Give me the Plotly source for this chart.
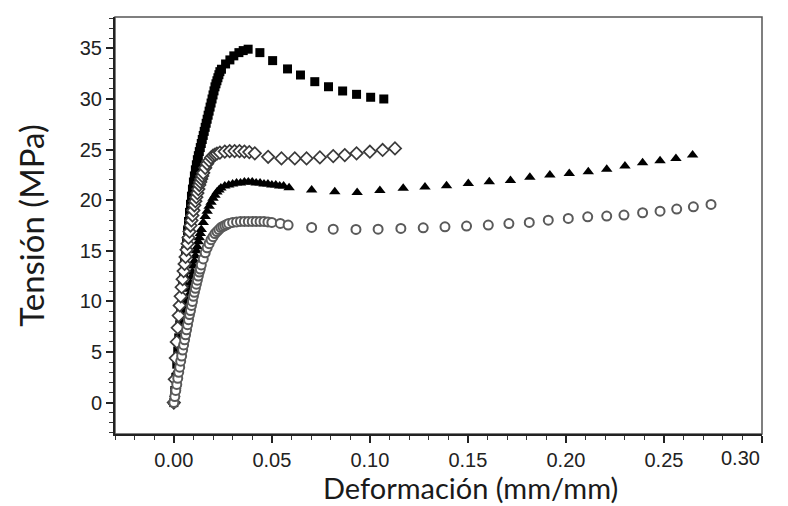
import plotly.graph_objects as go

# ---------------- data ----------------
sq_x = [0, 0.0005, 0.001, 0.0015, 0.002, 0.0025, 0.003, 0.0035, 0.004, 0.0045, 0.005, 0.0055,
        0.006, 0.0065, 0.007, 0.0075, 0.008, 0.0085, 0.009, 0.0095, 0.010, 0.0105, 0.011, 0.0115,
        0.012, 0.0125, 0.013, 0.0135, 0.014, 0.0145, 0.015, 0.0155, 0.016, 0.0165, 0.017, 0.0175,
        0.018, 0.0185, 0.019, 0.0195, 0.020, 0.0205, 0.021, 0.0215, 0.022, 0.0225, 0.023, 0.0235,
        0.0243, 0.0264, 0.0286, 0.0306, 0.0332, 0.0354, 0.0379, 0.0439, 0.0504, 0.0580, 0.0646,
        0.0719, 0.0789, 0.0861, 0.0932, 0.1004, 0.1071]
sq_y = [0, 1.2, 2.5, 3.8, 5.1, 6.4, 7.7, 9.0, 10.3, 11.5, 12.7, 13.9,
        15.0, 16.0, 17.0, 17.9, 18.8, 19.6, 20.4, 21.1, 21.8, 22.4, 23.0, 23.5,
        24.0, 24.4, 24.8, 25.2, 25.6, 26.0, 26.4, 26.8, 27.2, 27.6, 28.0, 28.4,
        28.8, 29.2, 29.6, 30.0, 30.4, 30.8, 31.2, 31.5, 31.8, 32.1, 32.4, 32.7,
        32.94, 33.46, 33.86, 34.26, 34.58, 34.78, 34.92, 34.58, 33.79, 32.97, 32.37,
        31.71, 31.21, 30.79, 30.46, 30.17, 30.0]

di_x = [0, 0.0005, 0.001, 0.0015, 0.002, 0.0025, 0.003, 0.0035, 0.004, 0.0045, 0.005, 0.0055,
        0.006, 0.0065, 0.007, 0.0075, 0.008, 0.0085, 0.009, 0.0095, 0.010, 0.0105, 0.011, 0.0115,
        0.012, 0.0125, 0.013, 0.0135, 0.014, 0.0145, 0.015, 0.016, 0.017, 0.018, 0.019, 0.020,
        0.021, 0.022, 0.0235, 0.026, 0.0285, 0.031, 0.0335, 0.036, 0.0385,
        0.0413, 0.0481, 0.0549, 0.0617, 0.0677, 0.0745, 0.0813, 0.0872, 0.0932, 0.1, 0.1065, 0.1128]
di_y = [0, 2.3, 4.4, 6.0, 7.4, 8.6, 9.6, 10.5, 11.4, 12.2, 13.0, 13.7,
        14.4, 15.1, 15.7, 16.3, 16.9, 17.5, 18.0, 18.5, 19.0, 19.5, 19.9, 20.3,
        20.7, 21.1, 21.5, 21.8, 22.1, 22.4, 22.7, 23.2, 23.6, 23.9, 24.2, 24.4,
        24.5, 24.6, 24.7, 24.8, 24.85, 24.85, 24.85, 24.8, 24.75,
        24.63, 24.29, 24.13, 24.13, 24.13, 24.23, 24.36, 24.46, 24.63, 24.79, 24.96, 25.12]

tr_x = [0, 0.0005, 0.001, 0.0015, 0.002, 0.0025, 0.003, 0.0035, 0.004, 0.0045, 0.005, 0.0055,
        0.006, 0.0065, 0.007, 0.0075, 0.008, 0.0085, 0.009, 0.0095, 0.010, 0.0105, 0.011, 0.0115,
        0.012, 0.0125, 0.013, 0.0135, 0.014, 0.015, 0.016, 0.017, 0.018, 0.019, 0.020, 0.021,
        0.022, 0.023, 0.024, 0.026, 0.028, 0.030, 0.032, 0.034, 0.036, 0.038, 0.040, 0.042,
        0.044, 0.046, 0.048, 0.050, 0.052, 0.054, 0.056,
        0.0588, 0.0703, 0.0821, 0.0935, 0.1051, 0.1170, 0.1281, 0.1391, 0.1502, 0.1609, 0.1717,
        0.1816, 0.1918, 0.2017, 0.2114, 0.2208, 0.2301, 0.2391, 0.2480, 0.2561, 0.2646]
tr_y = [0, 0.8, 1.6, 2.4, 3.2, 3.9, 4.6, 5.3, 6.0, 6.7, 7.4, 8.1,
        8.7, 9.4, 10.0, 10.6, 11.2, 11.8, 12.4, 12.9, 13.5, 14.0, 14.5, 15.0,
        15.4, 15.9, 16.3, 16.7, 17.1, 17.8, 18.4, 18.9, 19.4, 19.8, 20.2, 20.5,
        20.8, 21.0, 21.2, 21.4, 21.5, 21.6, 21.7, 21.7, 21.8, 21.8, 21.8, 21.7,
        21.7, 21.6, 21.6, 21.5, 21.5, 21.4, 21.4,
        21.23, 21.0, 20.83, 20.77, 20.97, 21.17, 21.30, 21.42, 21.66, 21.82, 21.94,
        22.26, 22.48, 22.65, 22.81, 23.05, 23.37, 23.70, 23.90, 24.13, 24.46]

ci_x = [0, 0.0005, 0.001, 0.0015, 0.002, 0.0025, 0.003, 0.0035, 0.004, 0.0045, 0.005, 0.0055,
        0.006, 0.0065, 0.007, 0.0075, 0.008, 0.0085, 0.009, 0.0095, 0.010, 0.0105, 0.011, 0.0115,
        0.012, 0.0125, 0.013, 0.0135, 0.014, 0.015, 0.016, 0.017, 0.018, 0.019, 0.020, 0.021,
        0.022, 0.023, 0.024, 0.025, 0.026, 0.027, 0.028, 0.030, 0.032, 0.034, 0.036, 0.038,
        0.040, 0.042, 0.044, 0.046, 0.048, 0.050, 0.0543,
        0.0583, 0.0703, 0.0813, 0.0929, 0.1042, 0.1158, 0.1272, 0.1383, 0.1493, 0.1604, 0.1709,
        0.1813, 0.1910, 0.2012, 0.2111, 0.2208, 0.2296, 0.2391, 0.2480, 0.2565, 0.2650, 0.2740]
ci_y = [0, 0.6, 1.2, 1.8, 2.4, 3.0, 3.5, 4.1, 4.6, 5.2, 5.7, 6.2,
        6.7, 7.2, 7.7, 8.2, 8.7, 9.1, 9.6, 10.0, 10.5, 10.9, 11.3, 11.7,
        12.1, 12.5, 12.9, 13.2, 13.6, 14.2, 14.8, 15.3, 15.7, 16.1, 16.4, 16.7,
        16.9, 17.1, 17.3, 17.4, 17.5, 17.6, 17.7, 17.8, 17.85, 17.9, 17.9, 17.9,
        17.9, 17.9, 17.9, 17.9, 17.85, 17.8, 17.7,
        17.54, 17.31, 17.14, 17.11, 17.14, 17.21, 17.27, 17.37, 17.44, 17.54, 17.69,
        17.80, 18.03, 18.20, 18.36, 18.43, 18.53, 18.76, 18.92, 19.12, 19.35, 19.58]

x_ticks = [0.00, 0.05, 0.10, 0.15, 0.20, 0.25, 0.30]
x_tick_text = ["0.00", "0.05", "0.10", "0.15", "0.20", "0.25", "0.30"]
y_ticks = [0, 5, 10, 15, 20, 25, 30, 35]
x_title = "Deformación (mm/mm)"
y_title = "Tensión (MPa)"

# ---------------- figure ----------------
fig = go.Figure()
fig.add_trace(go.Scatter(x=sq_x, y=sq_y, mode="markers",
                         marker=dict(symbol="square", size=9, color="#000000", line=dict(width=0))))
fig.add_trace(go.Scatter(x=tr_x, y=tr_y, mode="markers",
                         marker=dict(symbol="triangle-up", size=10, color="#000000", line=dict(width=0))))
fig.add_trace(go.Scatter(x=di_x, y=di_y, mode="markers",
                         marker=dict(symbol="diamond", size=9.5, color="white",
                                     line=dict(width=1.7, color="#3a3a3a"))))
fig.add_trace(go.Scatter(x=ci_x, y=ci_y, mode="markers",
                         marker=dict(symbol="circle", size=9, color="white",
                                     line=dict(width=2, color="#5a5a5a"))))

tick_font = dict(family="Liberation Sans, Arial, sans-serif", size=20, color="#222222")
xtitle_font = dict(family="Lato, Carlito, Calibri, sans-serif", size=29, color="#1a1a1a")
ytitle_font = dict(family="Lato, Carlito, Calibri, sans-serif", size=33, color="#1a1a1a")

# last x tick label is shifted left in the reference, draw it as an annotation
shown_tick_text = x_tick_text[:-1] + [""]

fig.update_layout(
    width=788, height=506,
    margin=dict(l=115, r=26, t=17, b=72),
    paper_bgcolor="white", plot_bgcolor="white",
    showlegend=False,
    shapes=[dict(type="rect", xref="paper", yref="paper", x0=0, y0=0, x1=1, y1=1,
                 line=dict(color="#555555", width=1.5), layer="below")],
    annotations=[
        dict(text=x_title, xref="paper", yref="paper", x=0.549, y=-0.0815,
             xanchor="center", yanchor="top", showarrow=False, font=xtitle_font),
        dict(text=y_title, xref="paper", yref="paper", x=-0.131, y=0.5, textangle=-90,
             xanchor="center", yanchor="middle", showarrow=False, font=ytitle_font),
        dict(text=x_tick_text[-1], xref="x", yref="paper", x=x_ticks[-1], y=-0.027,
             xanchor="right", yanchor="top", xshift=0, showarrow=False, font=tick_font),
    ],
)
fig.update_xaxes(range=[-0.03, 0.30], tickvals=x_ticks, ticktext=shown_tick_text,
                 showgrid=False, zeroline=False, showline=True, linecolor="#222222", linewidth=2,
                 ticks="outside", ticklen=7, tickwidth=1.5, tickcolor="#222222",
                 minor=dict(dtick=0.01, tick0=0, ticks="outside", ticklen=4, tickwidth=1.2,
                            tickcolor="#333333", showgrid=False),
                 ticklabelstandoff=0, tickfont=tick_font)
fig.update_yaxes(range=[-3.1, 38.1], tickvals=y_ticks,
                 showgrid=False, zeroline=False, showline=True, linecolor="#222222", linewidth=2,
                 ticks="outside", ticklen=7, tickwidth=1.5, tickcolor="#222222",
                 minor=dict(dtick=1, tick0=0, ticks="outside", ticklen=4, tickwidth=1.2,
                            tickcolor="#333333", showgrid=False),
                 ticklabelstandoff=0, tickfont=tick_font)

fig.write_html("out.html", config={"displayModeBar": False},
               post_script="document.body.style.margin='0';")
